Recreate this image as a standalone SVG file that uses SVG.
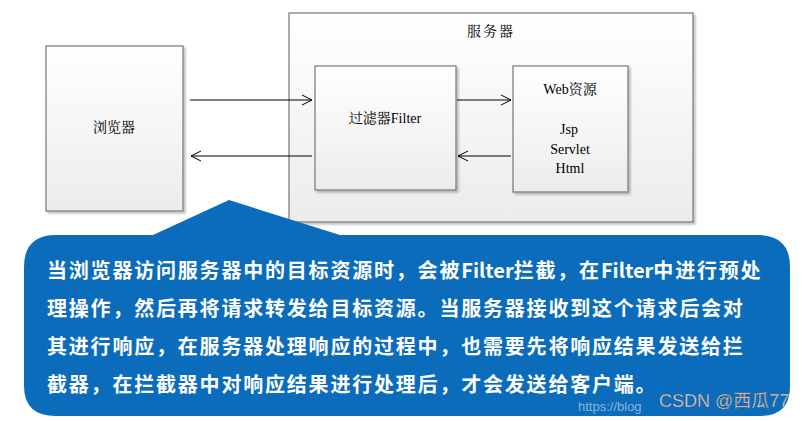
<svg xmlns="http://www.w3.org/2000/svg" width="806" height="421" viewBox="0 0 806 421">
<defs>
<linearGradient id="g" x1="0" y1="0" x2="0" y2="1">
<stop offset="0" stop-color="#ffffff"/>
<stop offset="1" stop-color="#ececec"/>
</linearGradient>
<filter id="sh" x="-10%" y="-10%" width="130%" height="130%">
<feDropShadow dx="2" dy="2" stdDeviation="1.2" flood-color="#000" flood-opacity="0.25"/>
</filter>
<marker id="ah" markerWidth="12" markerHeight="12" refX="10" refY="6" orient="auto" markerUnits="userSpaceOnUse">
<path d="M0,1 L10,6 L0,11" fill="none" stroke="#000" stroke-width="1"/>
</marker>
</defs>
<style>
.box{fill:url(#g);stroke:#808080;stroke-width:1.3;filter:url(#sh)}
.lbl{font-family:"Liberation Serif","Noto Serif CJK SC","Noto Sans CJK SC",serif;font-size:14px;fill:#000;text-anchor:middle}
.con{stroke:#000;stroke-width:1;fill:none;marker-end:url(#ah)}
.cal{font-family:"Noto Sans CJK SC",sans-serif;font-size:20px;font-weight:bold;fill:#fff}
</style>
<rect width="806" height="421" fill="#fff"/>
<g id="browser">
<rect class="box" x="46" y="46" width="137" height="165"/>
<text class="lbl" x="114" y="132">浏览器</text>
</g>
<g id="server">
<rect class="box" x="289" y="13" width="404" height="209"/>
<text class="lbl" x="491" y="36" letter-spacing="2">服务器</text>
</g>
<g id="filter">
<rect class="box" x="315" y="66" width="141" height="124"/>
<text class="lbl" x="385" y="123">过滤器Filter</text>
</g>
<g id="web">
<rect class="box" x="513" y="66" width="115" height="126"/>
<text class="lbl" x="570" y="94">Web资源</text>
<text class="lbl" x="569" y="134">Jsp</text>
<text class="lbl" x="570" y="154">Servlet</text>
<text class="lbl" x="570" y="173">Html</text>
</g>
<g id="connectors">
<line class="con" x1="190" y1="100" x2="312" y2="100"/>
<line class="con" x1="312" y1="156" x2="191" y2="156"/>
<line class="con" x1="457" y1="100" x2="511" y2="100"/>
<line class="con" x1="511" y1="156" x2="458" y2="156"/>
</g>
<g id="callout">
<path d="M229,200 L340,235 L758,235 Q790,235 790,267 L790,386 Q790,416 760,416 L56,416 Q24,416 24,386 L24,267 Q24,235 56,235 L153,235 Z" fill="#0b6cbc"/>
<text class="cal" x="47" y="278" letter-spacing="1.8">当浏览器访问服务器中的目标资源时，会被<tspan letter-spacing="0">Filter</tspan>拦截，在<tspan letter-spacing="0">Filter</tspan>中进行预处</text>
<text class="cal" x="47" y="316" letter-spacing="1.8">理操作，然后再将请求转发给目标资源。当服务器接收到这个请求后会对</text>
<text class="cal" x="47" y="354" letter-spacing="1.8">其进行响应，在服务器处理响应的过程中，也需要先将响应结果发送给拦</text>
<text class="cal" x="47" y="392" letter-spacing="1.8">截器，在拦截器中对响应结果进行处理后，才会发送给客户端。</text>
</g>
<g id="watermark" font-family="'Liberation Sans','Noto Sans CJK SC',sans-serif">
<text x="578" y="411" font-size="13" fill="#c8d4e4" fill-opacity="0.7">https://blog</text>
<text x="659" y="407" font-size="18" fill="#d8d8d8" stroke="#555" stroke-width="0.4">CSDN @西瓜77</text>
</g>
</svg>
